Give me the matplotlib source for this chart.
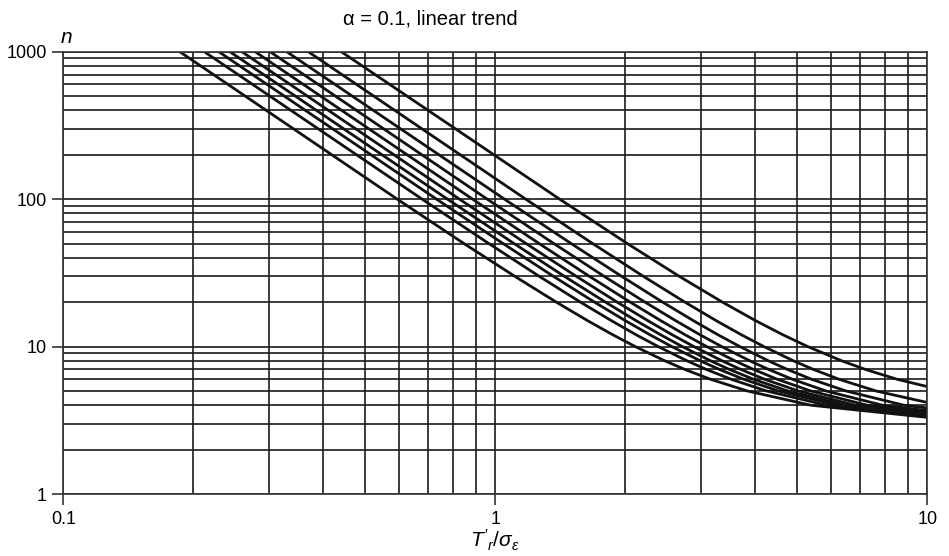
import matplotlib
matplotlib.use("Agg")
import matplotlib.pyplot as plt
from matplotlib.ticker import LogLocator, FixedLocator, FixedFormatter, NullFormatter

plt.rcParams['font.family'] = ['Liberation Sans', 'DejaVu Sans']
plt.rcParams['mathtext.fontset'] = 'custom'
plt.rcParams['mathtext.rm'] = 'Liberation Sans'
plt.rcParams['mathtext.it'] = 'Liberation Sans:italic'

# ---- data: T'_r/sigma where each curve crosses the n levels ----
n_levels = [1000, 100, 50, 30, 20, 15, 12, 10, 8, 7, 6, 5, 4, 3]

x_p50 = [0.186, 0.593, 0.846, 1.109, 1.385, 1.635, 1.873, 2.109, 2.470, 2.746, 3.150, 3.832, 5.380, 13.80]
x_p60 = [0.212, 0.677, 0.966, 1.263, 1.575, 1.856, 2.121, 2.383, 2.780, 3.079, 3.516, 4.242, 5.855, 14.37]
x_p65 = [0.229, 0.731, 1.042, 1.362, 1.698, 1.999, 2.283, 2.562, 2.984, 3.302, 3.761, 4.522, 6.200, 14.91]
x_p70 = [0.243, 0.775, 1.105, 1.444, 1.800, 2.117, 2.417, 2.710, 3.152, 3.483, 3.963, 4.751, 6.473, 15.28]
x_p75 = [0.259, 0.826, 1.178, 1.539, 1.916, 2.254, 2.571, 2.882, 3.350, 3.700, 4.203, 5.029, 6.817, 15.83]
x_p80 = [0.278, 0.886, 1.263, 1.650, 2.054, 2.415, 2.754, 3.087, 3.587, 3.960, 4.496, 5.372, 7.264, 16.64]
x_p85 = [0.301, 0.958, 1.366, 1.785, 2.222, 2.614, 2.982, 3.343, 3.886, 4.291, 4.874, 5.828, 7.880, 17.96]
x_p90 = [0.329, 1.050, 1.498, 1.959, 2.441, 2.873, 3.281, 3.683, 4.289, 4.743, 5.399, 6.481, 8.830, 20.46]
x_p95 = [0.369, 1.176, 1.680, 2.200, 2.749, 3.245, 3.717, 4.186, 4.902, 5.449, 6.250, 7.604, 10.68, 27.38]
x_p99 = [0.440, 1.409, 2.021, 2.664, 3.358, 4.003, 4.638, 5.289, 6.341, 7.188, 8.517, 11.01, 17.86, 81.7]

curves = [x_p50, x_p60, x_p65, x_p70, x_p75, x_p80, x_p85, x_p90, x_p95, x_p99]

x_ticks = [0.1, 1, 10]
x_ticklabels = ['0.1', '1', '10']
y_ticks = [1, 10, 100, 1000]
y_ticklabels = ['1', '10', '100', '1000']

# ---- figure ----
fig = plt.figure(figsize=(9.49, 5.56), dpi=100)
ax = fig.add_axes([0.0667, 0.1115, 0.9104, 0.7955])
ax.set_xscale('log')
ax.set_yscale('log')
ax.set_xlim(0.1, 10)
ax.set_ylim(1, 1000)

grid_kw = dict(color='#1a1a1a', lw=1.2)
ax.xaxis.set_minor_locator(LogLocator(base=10, subs=range(2, 10)))
ax.yaxis.set_minor_locator(LogLocator(base=10, subs=range(2, 10)))
ax.grid(True, which='both', **grid_kw)
ax.set_axisbelow(True)

for xs in curves:
    ax.plot(xs, n_levels, color='#111111', lw=2.0, solid_capstyle='butt')

ax.xaxis.set_major_locator(FixedLocator(x_ticks))
ax.xaxis.set_major_formatter(FixedFormatter(x_ticklabels))
ax.yaxis.set_major_locator(FixedLocator(y_ticks))
ax.yaxis.set_major_formatter(FixedFormatter(y_ticklabels))
ax.xaxis.set_minor_formatter(NullFormatter())
ax.yaxis.set_minor_formatter(NullFormatter())
ax.tick_params(which='major', direction='out', length=8, width=1.2,
               color='#333333', labelsize=13, pad=4)
ax.tick_params(which='minor', length=0)

for side in ['left', 'bottom', 'top', 'right']:
    ax.spines[side].set_color('#333333')
    ax.spines[side].set_linewidth(1.2)

ax.set_xlabel(r"$T'_{r}/\sigma_{\epsilon}$", fontsize=15, labelpad=0)
fig.text(0.0705, 0.933, 'n', fontsize=15, style='italic', ha='center', va='center')
fig.text(0.453, 0.966, 'α = 0.1, linear trend', fontsize=14.5, ha='center', va='center')

fig.savefig('out.png', dpi=100)
